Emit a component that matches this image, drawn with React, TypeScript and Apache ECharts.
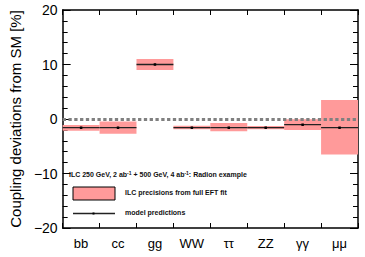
import React, { useEffect, useRef } from "react";
import * as echarts from "echarts";

const categories = ["bb", "cc", "gg", "WW", "ττ", "ZZ", "γγ", "μμ"];
const bandLow = [-2.15, -2.7, 9.0, -1.9, -2.25, -1.9, -2.0, -6.5];
const bandHigh = [-1.1, -0.45, 11.0, -1.25, -0.75, -1.3, -0.05, 3.5];
const predictions = [-1.6, -1.6, 10.0, -1.6, -1.6, -1.6, -1.05, -1.6];
const yTicks = [-20, -10, 0, 10, 20];

const FONT = "Liberation Sans, Arial, sans-serif";

export default function App() {
  const ref = useRef<HTMLDivElement>(null);
  useEffect(() => {
    if (!ref.current) return;
    const chart = echarts.init(ref.current, undefined, { renderer: "svg" });
    const axisLine = { show: true, onZero: false, lineStyle: { color: "#000", width: 1.5 } };
    const yAxisCommon = {
      type: "value",
      min: yTicks[0],
      max: yTicks[yTicks.length - 1],
      interval: 10,
      axisLine,
      axisTick: { show: true, inside: true, length: 8, lineStyle: { color: "#000", width: 1 } },
      minorTick: { show: true, splitNumber: 5, length: 5, lineStyle: { color: "#000", width: 1 } },
      splitLine: { show: false },
    };
    const legendText = { fontSize: 7, fontWeight: "bold", fontFamily: FONT, fill: "#111" };
    const option: any = {
      animation: false,
      grid: { left: 51, right: 7, top: 10, bottom: 29 },
      xAxis: [
        {
          type: "category",
          data: categories,
          boundaryGap: true,
          axisLine,
          axisTick: { show: true, inside: true, length: 5, lineStyle: { color: "#000", width: 1 } },
          axisLabel: { color: "#000", fontSize: 13, fontFamily: FONT, margin: 9 },
        },
        {
          type: "category",
          data: categories,
          position: "top",
          boundaryGap: true,
          axisLine,
          axisTick: { show: true, inside: true, length: 5, lineStyle: { color: "#000", width: 1 } },
          axisLabel: { show: false },
        },
      ],
      yAxis: [
        {
          ...yAxisCommon,
          position: "left",
          name: "Coupling deviations from SM [%]",
          nameLocation: "middle",
          nameGap: 38,
          nameTextStyle: { color: "#000", fontSize: 15, fontFamily: FONT },
          axisLabel: {
            color: "#000",
            fontSize: 14,
            fontFamily: FONT,
            margin: 5,
            formatter: (v: number) => (v < 0 ? "\u2212" + Math.abs(v) : String(v)),
          },
        },
        { ...yAxisCommon, position: "right", axisLabel: { show: false } },
      ],
      series: [
        {
          type: "custom",
          xAxisIndex: 0,
          yAxisIndex: 0,
          data: categories.map((_, i) => [i, bandLow[i], bandHigh[i]]),
          renderItem: (params: any, api: any) => {
            const i = api.value(0);
            const p1 = api.coord([i, api.value(2)]);
            const p2 = api.coord([i, api.value(1)]);
            const w = api.size([1, 0])[0];
            return {
              type: "rect",
              shape: { x: p1[0] - w / 2, y: p1[1], width: w, height: p2[1] - p1[1] },
              style: { fill: "#ff9a9a", stroke: "none", lineWidth: 0 },
            };
          },
          z: 1,
        },
        {
          type: "line",
          data: [],
          markLine: {
            silent: true,
            symbol: "none",
            label: { show: false },
            lineStyle: { color: "#808080", width: 3, type: [3.3, 2.5] },
            data: [{ yAxis: 0 }],
          },
          z: 2,
        },
        {
          type: "custom",
          xAxisIndex: 0,
          yAxisIndex: 0,
          data: categories.map((_, i) => [i, predictions[i]]),
          renderItem: (params: any, api: any) => {
            const i = api.value(0);
            const p = api.coord([i, api.value(1)]);
            const w = api.size([1, 0])[0];
            return {
              type: "group",
              children: [
                {
                  type: "line",
                  shape: { x1: p[0] - w / 2, y1: p[1], x2: p[0] + w / 2, y2: p[1] },
                  style: { stroke: "#222", lineWidth: 1.3 },
                },
                {
                  type: "rect",
                  shape: { x: p[0] - 1.25, y: p[1] - 1.25, width: 2.5, height: 2.5 },
                  style: { fill: "#000", stroke: "none" },
                },
              ],
            };
          },
          z: 3,
        },
      ],
      graphic: [
        {
          type: "text",
          left: 69,
          top: 170,
          style: {
            text: "{a|ILC 250 GeV, 2 ab}{s|-1}{a| + 500 GeV, 4 ab}{s|-1}{a|: Radion example}",
            rich: {
              a: { ...legendText },
              s: { ...legendText, fontSize: 5, verticalAlign: "top", padding: [0, 0, 4, 0] },
            },
          },
        },
        {
          type: "rect",
          shape: { x: 73, y: 187, width: 42, height: 13 },
          style: { fill: "#ff9a9a", stroke: "#000", lineWidth: 1 },
        },
        {
          type: "text",
          left: 125,
          top: 189,
          style: { text: "ILC precisions from full EFT fit", ...legendText },
        },
        {
          type: "line",
          shape: { x1: 73, y1: 213.5, x2: 115, y2: 213.5 },
          style: { stroke: "#222", lineWidth: 1.3 },
        },
        {
          type: "rect",
          shape: { x: 92.5, y: 212.5, width: 2, height: 2 },
          style: { fill: "#000" },
        },
        {
          type: "text",
          left: 125,
          top: 209,
          style: { text: "model predictions", ...legendText },
        },
      ],
    };
    chart.setOption(option);
    return () => chart.dispose();
  }, []);
  return <div ref={ref} style={{ width: 365, height: 257, position: "absolute", left: 0, top: 0 }} />;
}
